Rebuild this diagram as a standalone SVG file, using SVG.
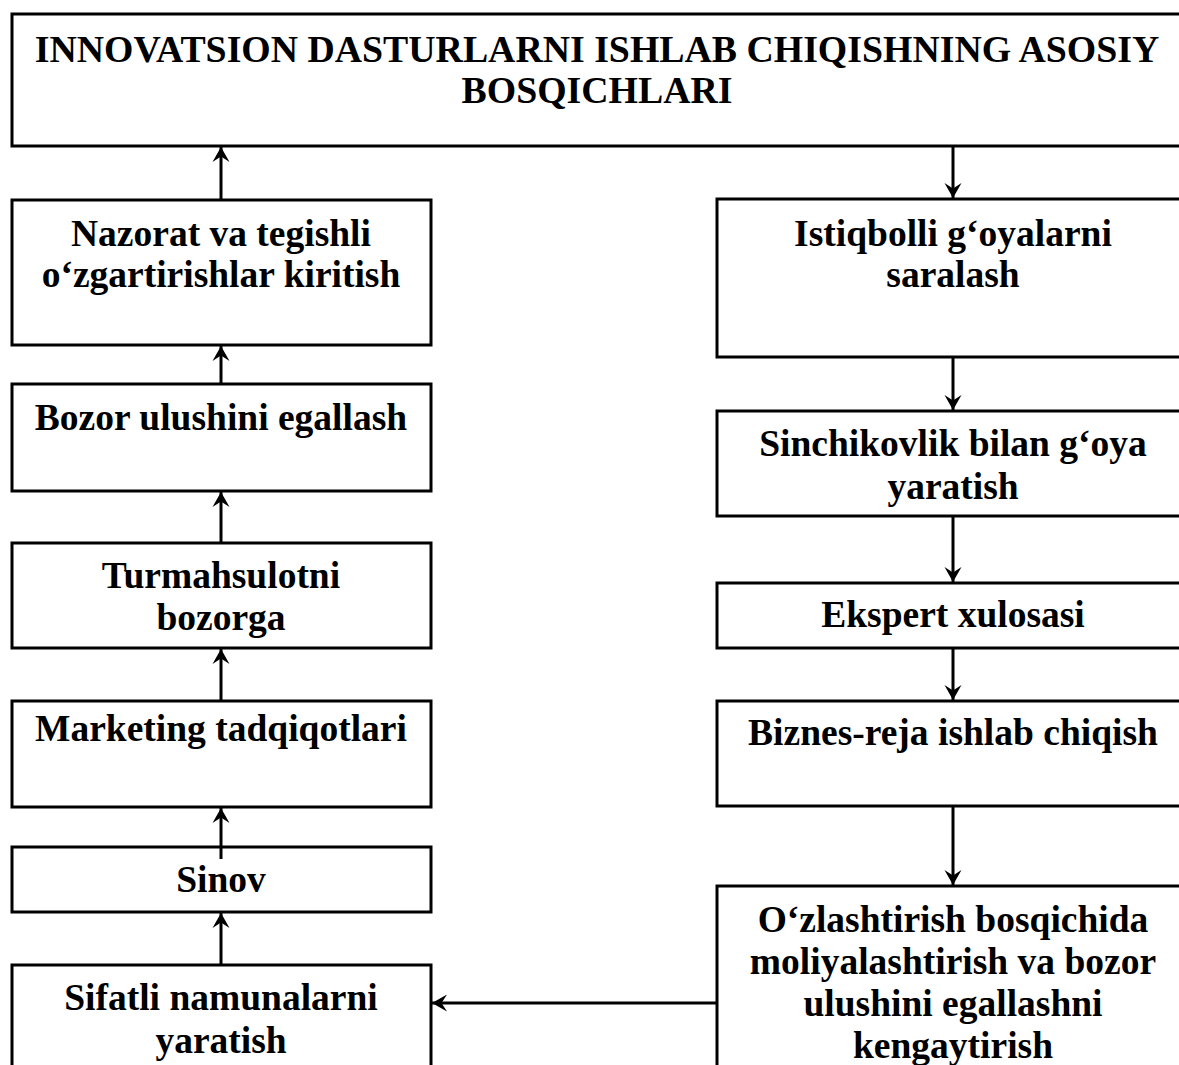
<svg xmlns="http://www.w3.org/2000/svg" width="1179" height="1065" viewBox="0 0 1179 1065">
  <style>
    .box { fill: #ffffff; stroke: #000000; stroke-width: 3; }
    .lbl { font-family: "Liberation Serif", "Times New Roman", serif; font-weight: bold; font-size: 37.5px; fill: #000000; text-anchor: middle; }
    .head { font-size: 37.8px; }
    .wire { fill: none; stroke: #000000; stroke-width: 3; }
  </style>
  <defs>
    <marker id="arrow" markerUnits="userSpaceOnUse" markerWidth="20" markerHeight="20" viewBox="-16 -10 20 20" refX="0" refY="0" orient="auto">
      <path d="M0,0 L-15,-8.5 L-9.5,0 L-15,8.5 Z" fill="#000000"/>
    </marker>
  </defs>
  <rect width="1179" height="1065" fill="#ffffff"/>

  <!-- title -->
  <g id="title">
    <rect class="box" x="12" y="14" width="1178" height="132"/>
    <text class="lbl head" x="597" y="62">INNOVATSION DASTURLARNI ISHLAB CHIQISHNING ASOSIY</text>
    <text class="lbl head" x="597" y="103">BOSQICHLARI</text>
  </g>

  <!-- left column, bottom to top -->
  <g id="nazorat">
    <rect class="box" x="12" y="200" width="419" height="145"/>
    <text class="lbl" x="221" y="246">Nazorat va tegishli</text>
    <text class="lbl" x="221" y="287">o‘zgartirishlar kiritish</text>
  </g>
  <g id="bozor">
    <rect class="box" x="12" y="384" width="419" height="107"/>
    <text class="lbl" x="221" y="430">Bozor ulushini egallash</text>
  </g>
  <g id="turmahsulot">
    <rect class="box" x="12" y="543" width="419" height="105"/>
    <text class="lbl" x="221" y="588">Turmahsulotni</text>
    <text class="lbl" x="221" y="630">bozorga</text>
  </g>
  <g id="marketing">
    <rect class="box" x="12" y="701" width="419" height="106"/>
    <text class="lbl" x="221" y="741">Marketing tadqiqotlari</text>
  </g>
  <g id="sinov">
    <rect class="box" x="12" y="847" width="419" height="65"/>
    <text class="lbl" x="221" y="892">Sinov</text>
  </g>
  <g id="sifatli">
    <rect class="box" x="12" y="965" width="419" height="120"/>
    <text class="lbl" x="221" y="1010">Sifatli namunalarni</text>
    <text class="lbl" x="221" y="1053">yaratish</text>
  </g>

  <!-- right column, top to bottom -->
  <g id="istiqbolli">
    <rect class="box" x="717" y="199" width="473" height="158"/>
    <text class="lbl" x="953" y="246">Istiqbolli g‘oyalarni</text>
    <text class="lbl" x="953" y="287">saralash</text>
  </g>
  <g id="sinchikovlik">
    <rect class="box" x="717" y="411" width="473" height="105"/>
    <text class="lbl" x="953" y="456">Sinchikovlik bilan g‘oya</text>
    <text class="lbl" x="953" y="499">yaratish</text>
  </g>
  <g id="ekspert">
    <rect class="box" x="717" y="583" width="473" height="65"/>
    <text class="lbl" x="953" y="627">Ekspert xulosasi</text>
  </g>
  <g id="biznes">
    <rect class="box" x="717" y="701" width="473" height="105"/>
    <text class="lbl" x="953" y="745">Biznes-reja ishlab chiqish</text>
  </g>
  <g id="ozlashtirish">
    <rect class="box" x="717" y="886" width="473" height="200"/>
    <text class="lbl" x="953" y="932">O‘zlashtirish bosqichida</text>
    <text class="lbl" x="953" y="974">moliyalashtirish va bozor</text>
    <text class="lbl" x="953" y="1016">ulushini egallashni</text>
    <text class="lbl" x="953" y="1058">kengaytirish</text>
  </g>

  <!-- connectors -->
  <g id="connectors">
    <line class="wire" x1="953" y1="146" x2="953" y2="198" marker-end="url(#arrow)"/>
    <line class="wire" x1="953" y1="357" x2="953" y2="410" marker-end="url(#arrow)"/>
    <line class="wire" x1="953" y1="516" x2="953" y2="582" marker-end="url(#arrow)"/>
    <line class="wire" x1="953" y1="648" x2="953" y2="700" marker-end="url(#arrow)"/>
    <line class="wire" x1="953" y1="806" x2="953" y2="885" marker-end="url(#arrow)"/>
    <line class="wire" x1="717" y1="1003" x2="432" y2="1003" marker-end="url(#arrow)"/>
    <line class="wire" x1="221" y1="965" x2="221" y2="913" marker-end="url(#arrow)"/>
    <line class="wire" x1="221" y1="859" x2="221" y2="808" marker-end="url(#arrow)"/>
    <line class="wire" x1="221" y1="701" x2="221" y2="649" marker-end="url(#arrow)"/>
    <line class="wire" x1="221" y1="543" x2="221" y2="492" marker-end="url(#arrow)"/>
    <line class="wire" x1="221" y1="384" x2="221" y2="346" marker-end="url(#arrow)"/>
    <line class="wire" x1="221" y1="200" x2="221" y2="147" marker-end="url(#arrow)"/>
  </g>
</svg>
